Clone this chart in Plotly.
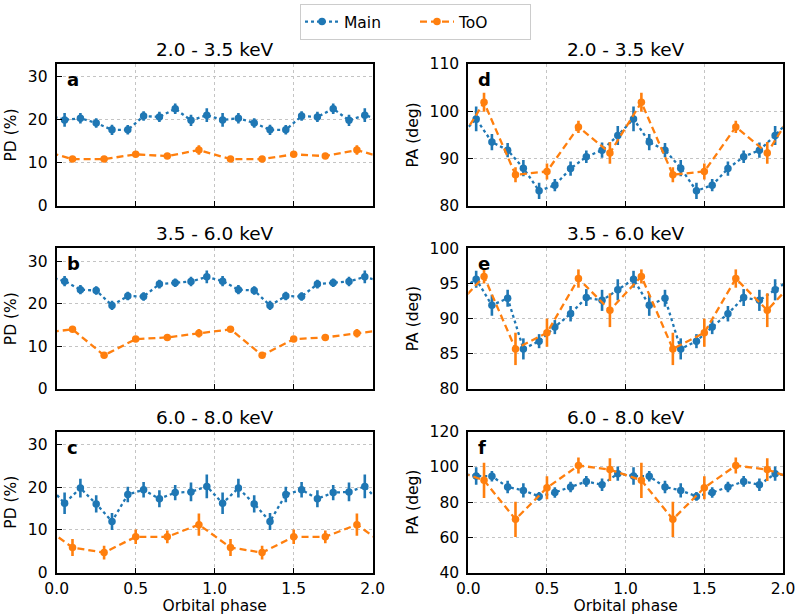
import plotly.graph_objects as go

# ---- data (one orbital cycle; plotted twice, phase 0-2) ----
main_phase = [0.05, 0.15, 0.25, 0.35, 0.45, 0.55, 0.65, 0.75, 0.85, 0.95]
too_phase = [0.1, 0.3, 0.5, 0.7, 0.9]

bands = ["2.0 - 3.5 keV", "3.5 - 6.0 keV", "6.0 - 8.0 keV"]

main_pd = [
    [20.0, 20.4, 19.3, 17.7, 17.7, 20.9, 20.7, 22.6, 19.9, 21.1],
    [25.3, 23.3, 23.1, 19.6, 21.8, 21.7, 24.6, 24.9, 25.2, 26.3],
    [16.25, 19.8, 16.1, 12.0, 18.3, 19.4, 17.3, 18.75, 18.9, 20.2],
]
main_pd_err = [
    [1.6, 1.2, 1.1, 1.2, 1.1, 1.1, 1.2, 1.2, 1.3, 1.6],
    [1.2, 1.1, 1.0, 1.1, 1.0, 1.0, 1.0, 1.0, 1.1, 1.5],
    [2.5, 2.2, 2.0, 2.0, 1.8, 1.8, 2.0, 1.8, 2.2, 2.8],
]
too_pd = [
    [10.9, 10.9, 12.0, 11.6, 13.0],
    [14.0, 7.9, 11.7, 12.1, 13.1],
    [5.9, 4.7, 8.4, 8.4, 11.25],
]
too_pd_err = [
    [0.6, 0.6, 0.6, 0.6, 1.1],
    [0.6, 0.6, 0.6, 0.6, 1.0],
    [2.0, 1.6, 1.7, 1.5, 2.6],
]

main_pa = [
    [98.4, 93.5, 91.8, 88.0, 83.2, 84.4, 87.9, 90.4, 91.8, 94.9],
    [95.6, 91.9, 92.9, 85.7, 86.8, 88.8, 90.7, 93.0, 92.6, 94.1],
    [94.9, 94.7, 88.6, 86.7, 83.3, 85.5, 88.6, 91.8, 89.9, 96.2],
]
main_pa_err = [
    [2.6, 1.7, 1.5, 1.7, 1.7, 1.3, 1.5, 1.3, 1.6, 2.0],
    [1.2, 1.5, 1.2, 1.5, 1.0, 1.0, 1.1, 1.2, 1.5, 1.5],
    [5.0, 3.0, 3.5, 4.0, 2.5, 3.0, 3.0, 3.0, 3.5, 4.0],
]
too_pa = [
    [101.9, 86.6, 87.3, 96.7, 91.2],
    [96.0, 85.7, 88.0, 95.7, 91.2],
    [92.4, 70.3, 88.2, 100.8, 98.5],
]
too_pa_err = [
    [2.0, 1.6, 1.7, 1.3, 2.3],
    [1.0, 2.3, 2.0, 1.3, 2.4],
    [10.0, 10.0, 6.5, 4.5, 6.5],
]

pd_range = [0, 33]
pa_ranges = [[80, 110], [80, 100], [40, 120]]
pa_ticks = [[80, 90, 100, 110], [80, 85, 90, 95, 100], [40, 60, 80, 100, 120]]
pd_ticks = [0, 10, 20, 30]
letters = [["a", "d"], ["b", "e"], ["c", "f"]]
x_ticks = [0.0, 0.5, 1.0, 1.5, 2.0]

BLUE = "#1f77b4"
ORANGE = "#ff7f0e"
FONT = "DejaVu Sans"
FS = 15.5


def two_cycles(phase, vals, errs):
    """Repeat one cycle over phase 0-2, with one wrap-around point on each side."""
    xs = [phase[-1] - 1.0] + list(phase) + [p + 1.0 for p in phase] + [phase[0] + 2.0]
    ys = [vals[-1]] + list(vals) + list(vals) + [vals[0]]
    es = [errs[-1]] + list(errs) + list(errs) + [errs[0]]
    return xs, ys, es


W, H = 798, 615
col_dom = [[56.7 / W, 372.7 / W], [468.3 / W, 783.0 / W]]
row_px = [(64.0, 206.0), (248.3, 389.0), (431.7, 572.7)]
row_dom = [[1 - b / H, 1 - t / H] for t, b in row_px]

fig = go.Figure()
annotations = []
ax_n = 0
for r in range(3):
    for c in range(2):
        ax_n += 1
        xa = "x" if ax_n == 1 else f"x{ax_n}"
        ya = "y" if ax_n == 1 else f"y{ax_n}"
        if c == 0:
            mv, me, tv, te = main_pd[r], main_pd_err[r], too_pd[r], too_pd_err[r]
        else:
            mv, me, tv, te = main_pa[r], main_pa_err[r], too_pa[r], too_pa_err[r]
        mx, my, mE = two_cycles(main_phase, mv, me)
        tx, ty, tE = two_cycles(too_phase, tv, te)
        show = ax_n == 1
        fig.add_trace(go.Scatter(
            x=mx, y=my, mode="lines+markers", name="Main", legendgroup="main",
            showlegend=show, xaxis=xa, yaxis=ya,
            line=dict(color=BLUE, width=2.3, dash="dot"),
            marker=dict(color=BLUE, size=7.5),
            error_y=dict(type="data", array=mE, visible=True, color=BLUE,
                         thickness=2.6, width=0),
        ))
        fig.add_trace(go.Scatter(
            x=tx, y=ty, mode="lines+markers", name="ToO", legendgroup="too",
            showlegend=show, xaxis=xa, yaxis=ya,
            line=dict(color=ORANGE, width=2.3, dash="7px,4px"),
            marker=dict(color=ORANGE, size=7.5),
            error_y=dict(type="data", array=tE, visible=True, color=ORANGE,
                         thickness=2.6, width=0),
        ))
        xkey = "xaxis" if ax_n == 1 else f"xaxis{ax_n}"
        ykey = "yaxis" if ax_n == 1 else f"yaxis{ax_n}"
        bottom = r == 2
        fig.layout[xkey] = dict(
            domain=col_dom[c], anchor=ya, range=[0, 2], automargin=False,
            tickvals=x_ticks, ticktext=[f"{v:.1f}" for v in x_ticks],
            showticklabels=bottom, ticks="inside", ticklen=5, tickwidth=1.2,
            tickcolor="black", ticklabelstandoff=1,
            showline=True, linecolor="black", linewidth=2, mirror=True,
            showgrid=True, gridcolor="#c4c4c4", griddash="3px,3px", gridwidth=1,
            zeroline=False,
            tickfont=dict(family=FONT, size=FS, color="black"),
            title=dict(text="Orbital phase" if bottom else "",
                       font=dict(family=FONT, size=FS, color="black"), standoff=8),
        )
        if c == 0:
            yr, yt, ytitle = pd_range, pd_ticks, "PD (%)"
        else:
            yr, yt, ytitle = pa_ranges[r], pa_ticks[r], "PA (deg)"
        fig.layout[ykey] = dict(
            domain=row_dom[r], anchor=xa, range=yr, tickvals=yt, automargin=False,
            ticks="inside", ticklen=5, tickwidth=1.2, tickcolor="black",
            ticklabelstandoff=4,
            showline=True, linecolor="black", linewidth=2, mirror=True,
            showgrid=True, gridcolor="#c4c4c4", griddash="3px,3px", gridwidth=1,
            zeroline=False,
            tickfont=dict(family=FONT, size=FS, color="black"),
            title=dict(text=ytitle, font=dict(family=FONT, size=FS, color="black"),
                       standoff=7),
        )
        annotations.append(dict(
            text=bands[r], xref=f"{xa} domain", yref=f"{ya} domain",
            x=0.5, y=1.0, xanchor="center", yanchor="bottom", yshift=2,
            showarrow=False, font=dict(family=FONT, size=18.5, color="black"),
        ))
        annotations.append(dict(
            text=f"<b>{letters[r][c]}</b>", xref=f"{xa} domain", yref=f"{ya} domain",
            x=0.025, y=1.0, xanchor="left", yanchor="top", yshift=-3,
            showarrow=False, font=dict(family=FONT, size=18, color="black"),
        ))

fig.update_layout(
    width=W, height=H,
    margin=dict(l=0, r=0, t=0, b=0),
    paper_bgcolor="white", plot_bgcolor="white",
    annotations=annotations,
    showlegend=True,
    legend=dict(
        orientation="h", x=300 / W, xanchor="left", y=1 - 4 / H, yanchor="top",
        bordercolor="#cccccc", borderwidth=1, bgcolor="white",
        font=dict(family=FONT, size=FS, color="black"),
        itemwidth=34, entrywidth=66, entrywidthmode="pixels",
    ),
)

fig.write_html(
    "out.html",
    config={"displayModeBar": False},
    post_script="document.body.style.margin='0';document.body.style.overflow='hidden';",
)
